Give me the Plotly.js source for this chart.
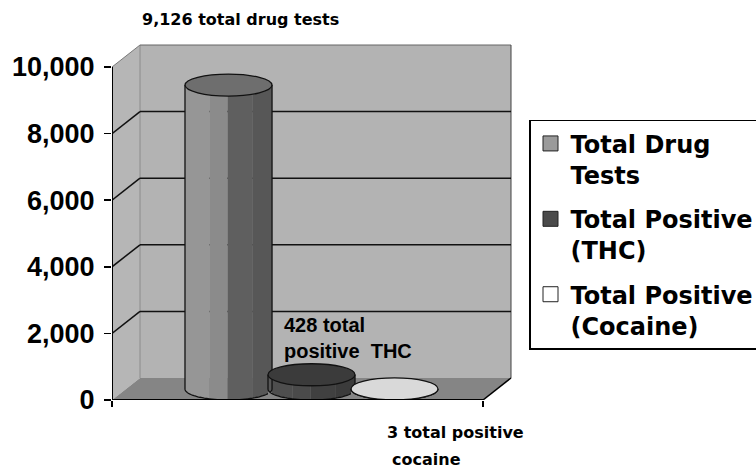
<!DOCTYPE html>
<html>
<head>
<meta charset="utf-8">
<script src="https://cdn.plot.ly/plotly-3.0.1.min.js"></script>
<style>
  html, body { margin: 0; padding: 0; background: #ffffff; }
  #chart { width: 756px; height: 470px; }
</style>
</head>
<body>
<div id="chart"></div>
<script>
// ---------------- data ----------------
const seriesNames = ['Total Drug Tests', 'Total Positive (THC)', 'Total Positive (Cocaine)'];
const legendLabels = ['Total Drug<br>Tests', 'Total Positive<br>(THC)', 'Total Positive<br>(Cocaine)'];
const seriesValues = [9126, 428, 3];
const yTickValues = [0, 2000, 4000, 6000, 8000, 10000];
const noteTotal = ' total drug tests';
const noteThcLine1 = ' total';
const noteThcLine2 = 'positive\u00a0 THC';
const noteCocaineLine1 = ' total positive';
const noteCocaineLine2 = 'cocaine';

// ---------------- style ----------------
const bandColors = [
  ['#969696', '#8b8b8b', '#5f5f5f', '#575757'],
  ['#4e4e4e', '#4a4a4a', '#404040', '#3b3b3b'],
  ['#e2e2e2', '#dcdcdc', '#cdcdcd', '#c6c6c6']
];
const topColors = ['#6e6e6e', '#3b3b3b', '#d9d9d9'];
const swatchColors = ['#9a9a9a', '#4a4a4a', '#ffffff'];
const bandStops = [0, 0.28, 0.49, 0.78, 1];
const FLOOR = '#858585';

// 3-D geometry (in axis units)
const DX = 0.0755;      // depth shift along x
const DY = 661;         // depth shift along y
const RX = 0.1173;      // cylinder radius (x)
const RY = 330;         // ellipse half height (y)
const STEP = 0.2237;    // series spacing within the category
const YMAX = 10691;
const XMIN = -0.5, XMAX = -0.5 + 400 / 371;
const WALL_TOP = yTickValues[yTickValues.length - 1];

const base = DY / 2;
const centers = seriesValues.map((v, i) => (i - (seriesValues.length - 1) / 2) * STEP + DX / 2);

// ---------------- traces ----------------
const traces = [];
for (let b = 0; b < 4; b++) {
  const f0 = bandStops[b], f1 = bandStops[b + 1];
  traces.push({
    type: 'bar',
    x: centers.map(c => c - RX + (f0 + f1) * RX),
    y: seriesValues.map(v => v + RY),
    base: seriesValues.map(() => base - RY),
    width: seriesValues.map(() => (f1 - f0) * 2 * RX),
    marker: { color: bandColors.map(cs => cs[b]), line: { width: 0 } },
    showlegend: false,
    hoverinfo: 'skip'
  });
}
seriesNames.forEach((n, i) => {
  traces.push({
    type: 'scatter', mode: 'markers',
    name: legendLabels[i],
    legendgroup: 'g' + i,
    x: [null], y: [null],
    marker: { symbol: 'square', size: 15, color: swatchColors[i], line: { color: '#222', width: 1 } },
    showlegend: true
  });
});

// ---------------- shapes ----------------
const shapes = [];
const L = XMIN, R = 0.5;
shapes.push({ type: 'path', layer: 'below', xref: 'x', yref: 'y',
  path: `M${L},0 L${L},${WALL_TOP} L${L + DX},${WALL_TOP + DY} L${L + DX},${DY} Z`,
  fillcolor: '#b6b6b6', line: { width: 0 } });
shapes.push({ type: 'rect', layer: 'below', xref: 'x', yref: 'y',
  x0: L + DX, x1: R + DX, y0: DY, y1: WALL_TOP + DY,
  fillcolor: '#b3b3b3', line: { width: 0 } });
shapes.push({ type: 'path', layer: 'below', xref: 'x', yref: 'y',
  path: `M${L},0 L${R},0 L${R + DX},${DY} L${L + DX},${DY} Z`,
  fillcolor: FLOOR, line: { width: 0 } });
shapes.push({ type: 'line', layer: 'below', xref: 'x', yref: 'y',
  x0: L + DX, x1: L + DX, y0: DY, y1: WALL_TOP + DY, line: { color: '#8c8c8c', width: 1 } });
shapes.push({ type: 'line', layer: 'below', xref: 'x', yref: 'y',
  x0: L, x1: L + DX, y0: WALL_TOP, y1: WALL_TOP + DY, line: { color: '#7a7a7a', width: 1 } });
shapes.push({ type: 'line', layer: 'below', xref: 'x', yref: 'y',
  x0: L + DX, x1: R + DX, y0: WALL_TOP + DY, y1: WALL_TOP + DY, line: { color: '#666', width: 1 } });
shapes.push({ type: 'line', layer: 'below', xref: 'x', yref: 'y',
  x0: R + DX, x1: R + DX, y0: DY, y1: WALL_TOP + DY, line: { color: '#444', width: 1 } });
yTickValues.filter(v => v > 0 && v < WALL_TOP).forEach(v => {
  shapes.push({ type: 'line', layer: 'below', xref: 'x', yref: 'y',
    x0: L, x1: L + DX, y0: v, y1: v + DY, line: { color: '#111', width: 1.5 } });
  shapes.push({ type: 'line', layer: 'below', xref: 'x', yref: 'y',
    x0: L + DX, x1: R + DX, y0: v + DY, y1: v + DY, line: { color: '#111', width: 1.5 } });
});

function arcPts(cx, cy, a0, a1, n) {
  const pts = [];
  for (let k = 0; k <= n; k++) {
    const a = a0 + (a1 - a0) * k / n;
    pts.push([cx + RX * Math.cos(a), cy + RY * Math.sin(a)]);
  }
  return pts;
}
const toPath = pts => pts.map((p, k) => (k ? 'L' : 'M') + p[0].toFixed(5) + ',' + p[1].toFixed(2)).join(' ');

seriesValues.forEach((v, i) => {
  const c = centers[i];
  const left = arcPts(c, base, Math.PI, 1.5 * Math.PI, 24);
  shapes.push({ type: 'path', layer: 'above', xref: 'x', yref: 'y',
    path: toPath(left.concat([[c - RX, base - RY]])) + ' Z',
    fillcolor: FLOOR, line: { width: 0 } });
  const right = arcPts(c, base, 1.5 * Math.PI, 2 * Math.PI, 24);
  shapes.push({ type: 'path', layer: 'above', xref: 'x', yref: 'y',
    path: toPath(right.concat([[c + RX, base - RY]])) + ' Z',
    fillcolor: FLOOR, line: { width: 0 } });
  shapes.push({ type: 'path', layer: 'above', xref: 'x', yref: 'y',
    path: toPath(arcPts(c, base, Math.PI, 2 * Math.PI, 48)),
    line: { color: '#111', width: 1.3 } });
  [-1, 1].forEach(s => {
    shapes.push({ type: 'line', layer: 'above', xref: 'x', yref: 'y',
      x0: c + s * RX, x1: c + s * RX, y0: base, y1: base + v,
      line: { color: '#111', width: 1.3 } });
  });
  shapes.push({ type: 'circle', layer: 'above', xref: 'x', yref: 'y',
    x0: c - RX, x1: c + RX, y0: base + v - RY, y1: base + v + RY,
    fillcolor: topColors[i], line: { color: '#111', width: 1.3 } });
});
shapes.push({ type: 'line', layer: 'above', xref: 'x', yref: 'y',
  x0: L, x1: L, y0: 0, y1: WALL_TOP, line: { color: '#000', width: 2 } });
shapes.push({ type: 'line', layer: 'above', xref: 'x', yref: 'y',
  x0: L, x1: R, y0: 0, y1: 0, line: { color: '#000', width: 2 } });
shapes.push({ type: 'line', layer: 'above', xref: 'x', yref: 'y',
  x0: R, x1: R + DX, y0: 0, y1: DY, line: { color: '#000', width: 1.5 } });

// ---------------- annotations ----------------
const fmt = n => n.toLocaleString('en-US');
const annFontA = { family: 'DejaVu Sans', size: 16, color: '#000', weight: 'bold' };
const annFontB = { family: 'Liberation Sans, Arial', size: 20, color: '#000', weight: 'bold' };
const annotations = [
  { xref: 'paper', yref: 'paper', x: 0.07, y: 1.070, xanchor: 'left', yanchor: 'middle',
    text: fmt(seriesValues[0]) + noteTotal, showarrow: false, font: annFontA },
  { xref: 'paper', yref: 'paper', x: 0.425, y: 0.174, xanchor: 'left', yanchor: 'middle', align: 'left',
    text: fmt(seriesValues[1]) + noteThcLine1 + '<br>' + noteThcLine2, showarrow: false, font: annFontB },
  { xref: 'paper', yref: 'paper', x: 0.6825, y: -0.092, xanchor: 'left', yanchor: 'middle',
    text: fmt(seriesValues[2]) + noteCocaineLine1, showarrow: false, font: annFontA },
  { xref: 'paper', yref: 'paper', x: 0.695, y: -0.168, xanchor: 'left', yanchor: 'middle',
    text: noteCocaineLine2, showarrow: false, font: annFontA }
];

// ---------------- layout ----------------
const layout = {
  width: 756, height: 470,
  margin: { l: 112, r: 244, t: 44, b: 70, autoexpand: false },
  paper_bgcolor: '#ffffff', plot_bgcolor: '#ffffff',
  barmode: 'overlay',
  showlegend: true,
  legend: {
    x: 1.0425, y: 0.787, xanchor: 'left', yanchor: 'top',
    bgcolor: '#ffffff', bordercolor: '#000', borderwidth: 1.5,
    font: { family: 'DejaVu Sans', size: 24, color: '#000', weight: 'bold' },
    traceorder: 'grouped', tracegroupgap: 10, valign: 'top'
  },
  xaxis: {
    range: [XMIN, XMAX], showgrid: false, zeroline: false, showline: false,
    tickmode: 'array', tickvals: [L, R], ticks: 'outside', ticklen: 6, tickwidth: 1.5,
    tickcolor: '#000', showticklabels: false, fixedrange: true
  },
  yaxis: {
    range: [0, YMAX], showgrid: false, zeroline: false, showline: false,
    tickmode: 'array', tickvals: yTickValues, tickformat: ',d',
    ticks: 'outside', ticklen: 7, tickwidth: 1.5, tickcolor: '#000',
    ticklabelstandoff: 4,
    tickfont: { family: 'Liberation Sans, Arial', size: 27, color: '#000', weight: 'bold' },
    fixedrange: true
  },
  shapes: shapes,
  annotations: annotations
};

Plotly.newPlot('chart', traces, layout, { displayModeBar: false, staticPlot: true });
</script>
</body>
</html>
